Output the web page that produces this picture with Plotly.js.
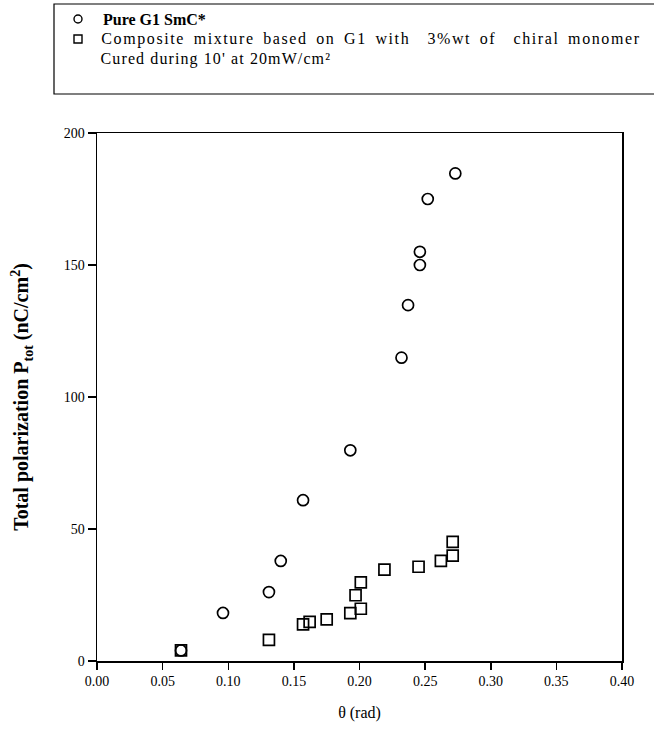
<!DOCTYPE html>
<html>
<head>
<meta charset="utf-8">
<script src="https://cdn.plot.ly/plotly-3.0.1.min.js"></script>
<style>
html,body{margin:0;padding:0;background:#fff;}
#chart g.annotation[data-index="1"] text.annotation-text{letter-spacing:1.6px;word-spacing:3px;}
#chart g.annotation[data-index="2"] text.annotation-text{letter-spacing:1.1px;}
</style>
</head>
<body>
<div id="chart" style="width:654px;height:742px;"></div>
<script>
// Pure G1 SmC*
const pureTheta = [0.064, 0.096, 0.131, 0.140, 0.157, 0.193, 0.232, 0.237, 0.246, 0.246, 0.252, 0.273];
const purePol   = [4.0, 18.2, 26.1, 37.9, 60.9, 79.8, 114.9, 134.8, 150.0, 155.0, 175.0, 184.7];
// Composite mixture
const compTheta = [0.064, 0.131, 0.157, 0.162, 0.175, 0.193, 0.201, 0.197, 0.201, 0.219, 0.245, 0.262, 0.271, 0.271];
const compPol   = [4.0, 8.0, 13.9, 14.8, 15.8, 18.1, 19.8, 24.9, 29.8, 34.6, 35.7, 37.9, 39.9, 45.1];

const xTicks = [0, 0.05, 0.10, 0.15, 0.20, 0.25, 0.30, 0.35, 0.40];
const xTickText = ["0.00", "0.05", "0.10", "0.15", "0.20", "0.25", "0.30", "0.35", "0.40"];
const yTicks = [0, 50, 100, 150, 200];
const yTickText = ["0", "50", "100", "150", "200"];

const seriesNames = ["<b>Pure G1 SmC*</b>", "Composite mixture based on G1 with\u00A0 3%wt of\u00A0 chiral monomer"];
const legendNote = "Cured during 10' at 20mW/cm²";

const serif = "Liberation Serif, Times New Roman, serif";

// margins (px) -> paper coordinate helpers for the legend box
const M = {l: 97, r: 32, t: 133, b: 81};
const W = 654, H = 742;
const PW = W - M.l - M.r, PH = H - M.t - M.b;
const px = v => (v - M.l) / PW;
const py = v => (H - M.b - v) / PH;

const traces = [
  {
    x: pureTheta, y: purePol, type: "scatter", mode: "markers",
    name: "Pure G1 SmC*", showlegend: false,
    marker: {symbol: "circle-open", size: 11, color: "#000", line: {width: 1.7, color: "#000"}}
  },
  {
    x: compTheta, y: compPol, type: "scatter", mode: "markers",
    name: "Composite mixture", showlegend: false,
    marker: {symbol: "square-open", size: 11, color: "#000", line: {width: 1.7, color: "#000"}}
  }
];

const rowY = [19, 39, 59];
const textX = 101, symX = 78, symR = 4;
// centres of the stretched legend lines (left edge at textX)
const line2Centre = 101 + 270, line3Centre = 101 + 115;

const layout = {
  width: W, height: H,
  paper_bgcolor: "#fff", plot_bgcolor: "#fff",
  margin: {l: M.l, r: M.r, t: M.t, b: M.b, autoexpand: false},
  showlegend: false,
  shapes: [
    {type: "rect", xref: "paper", yref: "paper",
     x0: px(54), x1: px(664), y0: py(94), y1: py(4),
     line: {color: "#000", width: 1.2}, fillcolor: "rgba(0,0,0,0)"},
    {type: "circle", xref: "paper", yref: "paper",
     x0: px(symX - symR), x1: px(symX + symR), y0: py(rowY[0] + symR), y1: py(rowY[0] - symR),
     line: {color: "#000", width: 1.4}},
    {type: "rect", xref: "paper", yref: "paper",
     x0: px(symX - symR), x1: px(symX + symR), y0: py(rowY[1] + symR), y1: py(rowY[1] - symR),
     line: {color: "#000", width: 1.4}}
  ],
  annotations: [
    {text: seriesNames[0], xref: "paper", yref: "paper", x: px(textX), y: py(rowY[0]),
     xanchor: "left", yanchor: "middle", showarrow: false, font: {family: serif, size: 16, color: "#000"}},
    {text: seriesNames[1], xref: "paper", yref: "paper", x: px(line2Centre), y: py(rowY[1]),
     xanchor: "center", yanchor: "middle", showarrow: false, font: {family: serif, size: 16, color: "#000"}},
    {text: legendNote, xref: "paper", yref: "paper", x: px(line3Centre), y: py(rowY[2]),
     xanchor: "center", yanchor: "middle", showarrow: false, font: {family: serif, size: 16, color: "#000"}}
  ],
  xaxis: {
    range: [0, 0.40], tickvals: xTicks, ticktext: xTickText,
    showgrid: false, zeroline: false,
    showline: true, linecolor: "#000", linewidth: 1.5, mirror: true,
    ticks: "outside", ticklen: 7, tickwidth: 1.5, tickcolor: "#000",
    tickfont: {family: serif, size: 14, color: "#000"},
    title: {text: "θ (rad)", font: {family: serif, size: 16, color: "#000"}, standoff: 18}
  },
  yaxis: {
    range: [0, 200], tickvals: yTicks, ticktext: yTickText,
    showgrid: false, zeroline: false,
    showline: true, linecolor: "#000", linewidth: 1.5, mirror: true,
    ticks: "outside", ticklen: 8, tickwidth: 1.5, tickcolor: "#000",
    tickfont: {family: serif, size: 14, color: "#000"},
    title: {text: "<b>Total polarization P<sub>tot</sub> (nC/cm<sup>2</sup>)</b>", font: {family: serif, size: 20, color: "#000"}, standoff: 29}
  }
};

Plotly.newPlot("chart", traces, layout, {displayModeBar: false, staticPlot: true});
</script>
</body>
</html>
